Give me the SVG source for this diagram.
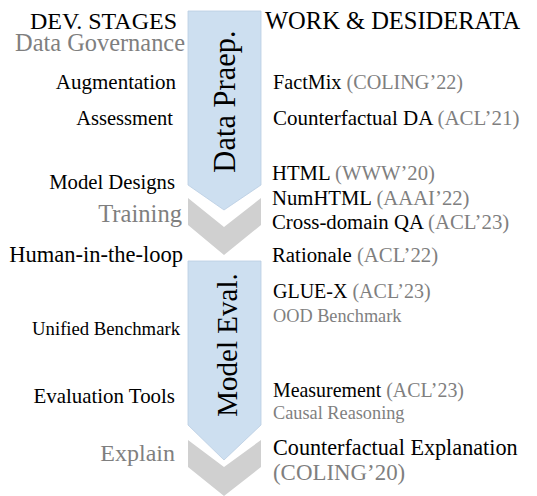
<svg xmlns="http://www.w3.org/2000/svg" width="537" height="496" viewBox="0 0 537 496">
<style>
text{font-family:'Liberation Serif','Times New Roman',serif;fill:#000}
.g{fill:#7f7f7f}
.l{text-anchor:end}
.blue{fill:#cddff0;stroke:#b9cde2;stroke-width:0.8}
.chev{fill:#d0d0d0}
.vt{text-anchor:middle}
</style>
<rect width="537" height="496" fill="#fff"/>
<g id="arrows">
<path id="prep-arrow" class="blue" d="M188,11 H261 V185 L224,210 L188,185 Z"/>
<path id="train-chevron" class="chev" d="M188,198 L224,227 L261,198 V225 L224,255 L188,225 Z"/>
<path id="eval-arrow" class="blue" d="M188,261 H261 V425 L224,460 L188,425 Z"/>
<path id="explain-chevron" class="chev" d="M188,440 L224,467 L261,440 V467 L224,496 L188,467 Z"/>
<text class="vt" font-size="30.5" transform="translate(235,101.5) rotate(-90)">Data Praep.</text>
<text class="vt" font-size="29" transform="translate(237,345) rotate(-90)">Model Eval.</text>
</g>
<g id="headers">
<text class="l" x="177" y="29" font-size="24">DEV. STAGES</text>
<text x="265" y="29" font-size="24.5">WORK &amp; DESIDERATA</text>
</g>
<g id="data-governance">
<text class="l g" x="185" y="51" font-size="24.4">Data Governance</text>
</g>
<g id="augmentation">
<text class="l" x="176" y="89" font-size="21">Augmentation</text>
<text x="273" y="89" font-size="20.2">FactMix <tspan class="g">(COLING’22)</tspan></text>
</g>
<g id="assessment">
<text class="l" x="173" y="125" font-size="20.5">Assessment</text>
<text x="273" y="125" font-size="21">Counterfactual DA <tspan class="g">(ACL’21)</tspan></text>
</g>
<g id="model-designs">
<text class="l" x="175" y="189" font-size="20.7">Model Designs</text>
<text x="272" y="180" font-size="20.7">HTML <tspan class="g">(WWW’20)</tspan></text>
<text x="272" y="205" font-size="20.7">NumHTML <tspan class="g">(AAAI’22)</tspan></text>
<text x="272" y="229" font-size="20.8">Cross-domain QA <tspan class="g">(ACL’23)</tspan></text>
</g>
<g id="training">
<text class="l g" x="182" y="222" font-size="24.6">Training</text>
</g>
<g id="human-in-the-loop">
<text class="l" x="183" y="262" font-size="22.5">Human-in-the-loop</text>
<text x="272" y="262" font-size="20.8">Rationale <tspan class="g">(ACL’22)</tspan></text>
</g>
<g id="unified-benchmark">
<text class="l" x="180" y="335" font-size="18.7">Unified Benchmark</text>
<text x="273" y="298" font-size="20">GLUE-X <tspan class="g">(ACL’23)</tspan></text>
<text class="g" x="273" y="322" font-size="18.3">OOD Benchmark</text>
</g>
<g id="evaluation-tools">
<text class="l" x="175" y="403" font-size="20.9">Evaluation Tools</text>
<text x="273" y="397" font-size="19.9">Measurement <tspan class="g">(ACL’23)</tspan></text>
<text class="g" x="273" y="419" font-size="18.3">Causal Reasoning</text>
</g>
<g id="explain">
<text class="l g" x="175" y="461" font-size="24">Explain</text>
<text x="273" y="455" font-size="22.2">Counterfactual Explanation</text>
<text class="g" x="273" y="480" font-size="22.9">(COLING’20)</text>
</g>
</svg>
